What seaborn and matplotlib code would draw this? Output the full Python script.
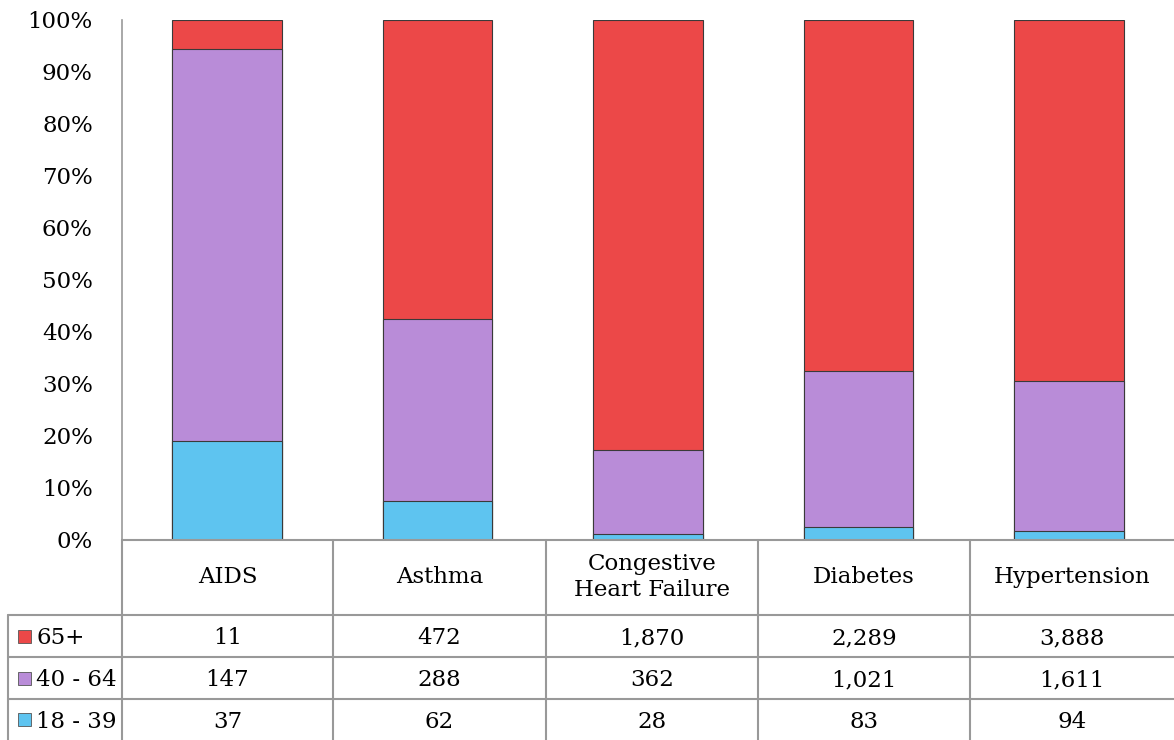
import matplotlib
matplotlib.use("Agg")
import matplotlib.pyplot as plt
import numpy as np
import pandas as pd
import seaborn as sns

# data
conditions = ["AIDS", "Asthma", "Congestive Heart Failure", "Diabetes", "Hypertension"]
header_labels = ["AIDS", "Asthma", "Congestive\nHeart Failure", "Diabetes", "Hypertension"]
age_groups = ["65+", "40 - 64", "18 - 39"]
n_65_plus = [11, 472, 1870, 2289, 3888]
n_40_64 = [147, 288, 362, 1021, 1611]
n_18_39 = [37, 62, 28, 83, 94]
y_ticks = [0, 10, 20, 30, 40, 50, 60, 70, 80, 90, 100]

colors = {"65+": "#EC4848", "40 - 64": "#B98CD8", "18 - 39": "#5EC4F0"}

sns.set_theme(style="white")
plt.rcParams["font.family"] = ["DejaVu Serif"]
plt.rcParams["text.color"] = "black"
plt.rcParams["ytick.color"] = "black"
FS = 16.5

W, H = 1174, 740
fig = plt.figure(figsize=(W / 100, H / 100), dpi=100)

# pixel layout
x0, x1 = 122, 1174
y_top, y_base = 20, 540
ax = fig.add_axes([x0 / W, 1 - y_base / H, (x1 - x0) / W, (y_base - y_top) / H])

df = pd.DataFrame({"condition": conditions, "a": n_18_39, "b": n_40_64, "c": n_65_plus})
total = df["a"] + df["b"] + df["c"]
df["p18"] = df["a"] / total * 100
df["p40"] = (df["a"] + df["b"]) / total * 100
df["p65"] = 100.0

# stacked via overlaid cumulative bars
for col, grp in [("p65", "65+"), ("p40", "40 - 64"), ("p18", "18 - 39")]:
    sns.barplot(data=df, x="condition", y=col, order=conditions, color=colors[grp],
                saturation=1, width=0.52, edgecolor="#3a3a3a", linewidth=0.8, ax=ax)

ax.set_xlim(-0.5, 4.5)
ax.set_ylim(0, 100)
ax.set_yticks(y_ticks)
ax.set_yticklabels([f"{t}%" for t in y_ticks], fontsize=FS)
ax.tick_params(axis="y", length=0, pad=21)
ax.set_xticks([])
ax.set_xlabel("")
ax.set_ylabel("")
for s in ["top", "right", "bottom"]:
    ax.spines[s].set_visible(False)
ax.spines["left"].set_color("#999999")
ax.spines["left"].set_linewidth(1.2)

# data table drawn in pixel coordinates
tab = fig.add_axes([0, 0, 1, 1], facecolor="none")
tab.set_xlim(0, W)
tab.set_ylim(H, 0)
tab.axis("off")
line_kw = dict(color="#999999", linewidth=1.5)
col_edges = [122, 333, 546, 758, 970, 1174]
row_edges = [540, 615, 657, 699]

tab.plot([122, 1174], [540, 540], **line_kw)
for y in row_edges[1:]:
    tab.plot([8, 1174], [y, y], **line_kw)
tab.plot([8, 8], [615, H], **line_kw)
for x in col_edges[:-1]:
    tab.plot([x, x], [540, H], **line_kw)

centers = [(col_edges[i] + col_edges[i + 1]) / 2 for i in range(5)]
for cx, lab in zip(centers, header_labels):
    tab.text(cx, 577, lab, ha="center", va="center", fontsize=FS, linespacing=1.25)

rows = [n_65_plus, n_40_64, n_18_39]
row_mid = [636, 678, 719]
for grp, vals, ym in zip(age_groups, rows, row_mid):
    tab.add_patch(plt.Rectangle((18, ym - 6), 13, 13, facecolor=colors[grp],
                                edgecolor="#555555", linewidth=0.6))
    tab.text(36, ym, grp, ha="left", va="center_baseline", fontsize=FS)
    for cx, v in zip(centers, vals):
        tab.text(cx, ym, f"{v:,}", ha="center", va="center_baseline", fontsize=FS)

fig.savefig("out.png", dpi=100)
